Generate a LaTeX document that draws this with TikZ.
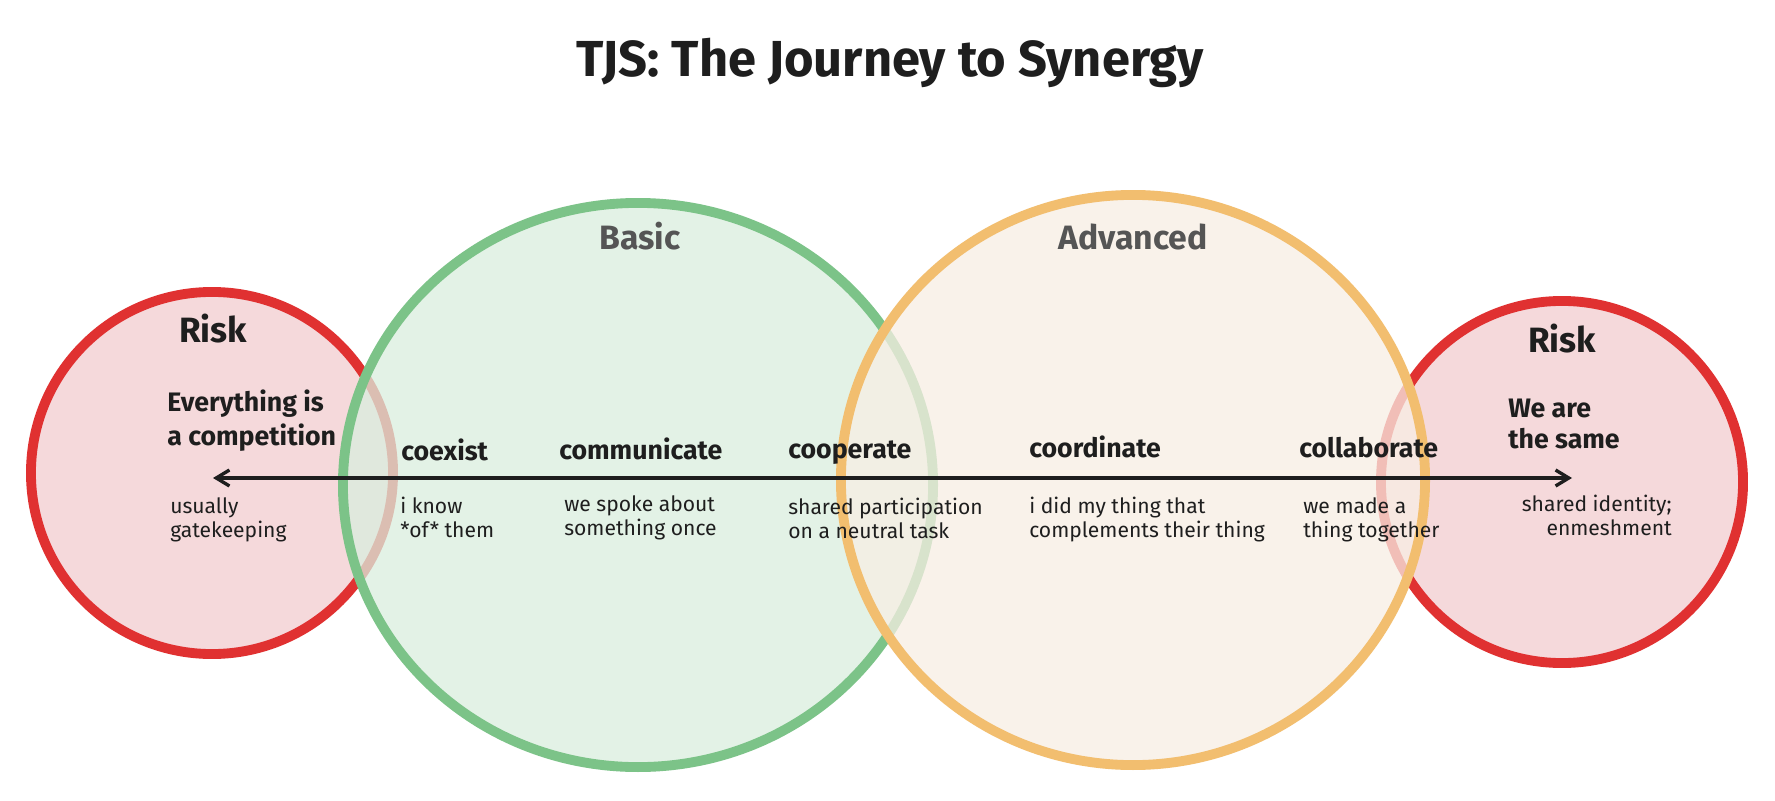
\documentclass[tikz,border=0pt]{standalone}
\usepackage{fontspec}
\setmainfont{Fira Sans}
\usepackage{xcolor}
\usetikzlibrary{positioning,arrows.meta,shapes.geometric}
\definecolor{ink}{RGB}{30,30,30}
\definecolor{headgray}{RGB}{85,85,85}
\definecolor{redline}{RGB}{224,49,49}
\definecolor{redfill}{RGB}{245,217,219}
\definecolor{greenline}{RGB}{124,195,136}
\definecolor{greenfill}{RGB}{218,238,222}
\definecolor{orangeline}{RGB}{242,190,111}
\definecolor{orangefill}{RGB}{248,238,228}
\begin{document}
\begin{tikzpicture}[x=0.025cm,y=-0.025cm,
            zone/.style={ellipse,draw,line width=7pt,inner sep=0pt},
            riskzone/.style={zone,draw=redline,fill=redfill,minimum width=9.05cm,minimum height=9.05cm},
            txt/.style={inner sep=0pt,text=ink},
            title/.style={txt,anchor=base,font=\fontsize{36}{42}\selectfont\bfseries},
            hdr/.style={txt,anchor=base,text=headgray,font=\fontsize{24}{29}\selectfont\bfseries},
            risklbl/.style={txt,anchor=base,font=\fontsize{25}{30}\selectfont\bfseries},
            claim/.style={txt,anchor=base west,align=left,font=\fontsize{19}{23.5}\selectfont\bfseries},
            phase/.style={txt,anchor=base west,font=\fontsize{19}{23}\selectfont\bfseries},
            note/.style={txt,anchor=base west,align=left,font=\fontsize{15}{17}\selectfont},
            arrow/.style={{Straight Barb[length=0.33cm,width=0.4cm]}-{Straight Barb[length=0.33cm,width=0.4cm]},line width=2.4pt,draw=ink}]
            \fill[white] (0,0) rectangle (1775,801);
            \useasboundingbox (0,0) rectangle (1775,801);
            \node[riskzone] (riskL) at (212,473) {};
            \node[zone,draw=greenline,fill=greenfill,fill opacity=0.75,minimum width=14.75cm,minimum height=14.1cm] (basic) at (638,485) {};
            \node[riskzone] (riskR) at (1562,482) {};
            \node[zone,draw=orangeline,fill=orangefill,fill opacity=0.75,minimum width=14.6cm,minimum height=14.25cm] (adv) at (1133,480) {};
            \node[title] (ttl) at (890,77) {TJS: The Journey to Synergy};
            \node[hdr] (h1) at (640,249) {Basic};
            \node[hdr] (h2) at (1133,249) {Advanced};
            \node[risklbl] (r1) at (213,342) {Risk};
            \node[risklbl] (r2) at (1562,352) {Risk};
            \node[claim] (c1) at (167,445) {Everything is\\a competition};
            \node[claim,font=\fontsize{19}{22}\selectfont\bfseries] (c2) at (1508,448) {We are\\the same};
            \node[phase] (p1) at (401,460) {coexist};
            \node[phase] (p2) at (559,459) {communicate};
            \node[phase] (p3) at (788,458) {cooperate};
            \node[phase] (p4) at (1029,457) {coordinate};
            \node[phase] (p5) at (1299,457) {collaborate};
            \node[note] (n0) at (170,537) {usually\\gatekeeping};
            \node[note] (n1) at (400,537) {i know\\*of* them};
            \node[note] (n2) at (564,535) {we spoke about\\something once};
            \node[note] (n3) at (788,538) {shared participation\\on a neutral task};
            \node[note] (n4) at (1029,537) {i did my thing that\\complements their thing};
            \node[note] (n5) at (1303,537) {we made a\\thing together};
            \node[note,anchor=base east,align=right] (n6) at (1672,535) {shared identity;\\enmeshment};
            \coordinate (aL) at (213,478);
            \coordinate (aR) at (1572,478);
            \draw[arrow] (aL)--(aR);
        \end{tikzpicture}
\end{document}
